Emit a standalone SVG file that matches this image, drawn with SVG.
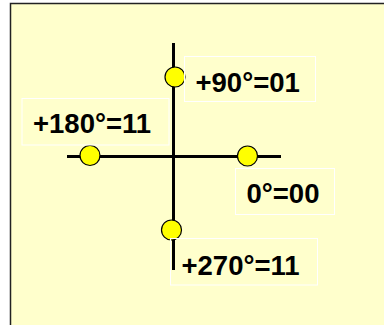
<svg xmlns="http://www.w3.org/2000/svg" width="384" height="325" viewBox="0 0 384 325">
<style>
.lbl{fill:none;stroke:#ffffff;stroke-width:1}
.t{font-family:"Liberation Sans",Arial,sans-serif;font-weight:bold;font-size:27.5px;fill:#000}
.dot{fill:#ffff00;stroke:#000;stroke-width:1.2}
.ax{stroke:#000;stroke-width:3;fill:none}
</style>
<rect x="0" y="0" width="384" height="325" fill="#ffffff"/>
<rect x="10.5" y="3.5" width="400" height="340" fill="#ffffcc" stroke="#222" stroke-width="1.5"/>
<g id="connectors">
<line class="ax" x1="173.5" y1="43" x2="173.5" y2="270"/>
<line class="ax" x1="67" y1="156.5" x2="281" y2="156.5"/>
</g>
<g id="n90">
<circle class="dot" cx="175" cy="77" r="10"/>
<rect class="lbl" x="184.5" y="56.5" width="131" height="45"/>
<text class="t" x="195.5" y="91.5">+90°=01</text>
</g>
<g id="n180">
<circle class="dot" cx="90" cy="155.5" r="10"/>
<rect class="lbl" x="22" y="98.5" width="147" height="46.5"/>
<text class="t" x="33" y="133">+180°=11</text>
</g>
<g id="n0">
<circle class="dot" cx="247.5" cy="156" r="10"/>
<rect class="lbl" x="235.5" y="168.5" width="99" height="46"/>
<text class="t" x="246.5" y="203">0°=00</text>
</g>
<g id="n270">
<circle class="dot" cx="171.5" cy="230" r="10"/>
<rect class="lbl" x="170.5" y="238.5" width="147" height="46.5"/>
<text class="t" x="181.5" y="275">+270°=11</text>
</g>
</svg>
